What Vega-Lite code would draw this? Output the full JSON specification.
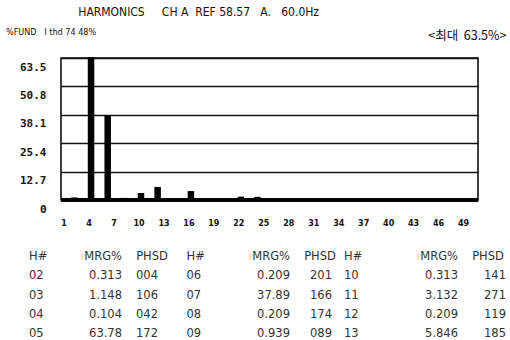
{
  "$schema": "https://vega.github.io/schema/vega-lite/v6.json",
  "background": "white",
  "padding": {"left": 5, "top": 6, "right": 0, "bottom": 0},
  "title": {"text": "HARMONICS\u00a0\u00a0\u00a0\u00a0\u00a0CH\u00a0A\u00a0\u00a0REF\u00a058.57\u00a0\u00a0\u00a0A.\u00a0\u00a0\u00a060.0Hz", "anchor": "start", "frame": "bounds", "dx": 73, "font": "DejaVu Sans Condensed", "fontSize": 12, "fontWeight": "normal", "color": "#111", "offset": 8},
  "datasets": {
    "harmonics": [
      {"h": 2, "mrg": 0.313}, {"h": 3, "mrg": 1.148}, {"h": 4, "mrg": 0.104}, {"h": 5, "mrg": 63.78},
      {"h": 6, "mrg": 0.209}, {"h": 7, "mrg": 37.89}, {"h": 8, "mrg": 0.209}, {"h": 9, "mrg": 0.939},
      {"h": 10, "mrg": 0.313}, {"h": 11, "mrg": 3.132}, {"h": 12, "mrg": 0.209}, {"h": 13, "mrg": 5.846},
      {"h": 14, "mrg": 0.2}, {"h": 15, "mrg": 0.5}, {"h": 16, "mrg": 0.2}, {"h": 17, "mrg": 4.0},
      {"h": 18, "mrg": 0.2}, {"h": 19, "mrg": 0.6}, {"h": 20, "mrg": 0.1}, {"h": 21, "mrg": 0.3},
      {"h": 22, "mrg": 0.1}, {"h": 23, "mrg": 1.5}, {"h": 24, "mrg": 0.1}, {"h": 25, "mrg": 1.4},
      {"h": 26, "mrg": 0.1}, {"h": 27, "mrg": 0.3}, {"h": 28, "mrg": 0.1}, {"h": 29, "mrg": 0.7},
      {"h": 30, "mrg": 0.1}, {"h": 31, "mrg": 0.6}, {"h": 32, "mrg": 0.1}, {"h": 33, "mrg": 0.3},
      {"h": 34, "mrg": 0.1}, {"h": 35, "mrg": 0.4}, {"h": 36, "mrg": 0.1}, {"h": 37, "mrg": 0.6},
      {"h": 38, "mrg": 0.1}, {"h": 39, "mrg": 0.3}, {"h": 40, "mrg": 0.1}, {"h": 41, "mrg": 0.4},
      {"h": 42, "mrg": 0.1}, {"h": 43, "mrg": 0.3}, {"h": 44, "mrg": 0.1}, {"h": 45, "mrg": 0.3},
      {"h": 46, "mrg": 0.1}, {"h": 47, "mrg": 0.3}, {"h": 48, "mrg": 0.1}, {"h": 49, "mrg": 0.3},
      {"h": 50, "mrg": 0.1}
    ],
    "table": [
      {"grp": 1, "row": 1, "h": "02", "mrg": "0.313", "phsd": "004"},
      {"grp": 1, "row": 2, "h": "03", "mrg": "1.148", "phsd": "106"},
      {"grp": 1, "row": 3, "h": "04", "mrg": "0.104", "phsd": "042"},
      {"grp": 1, "row": 4, "h": "05", "mrg": "63.78", "phsd": "172"},
      {"grp": 2, "row": 1, "h": "06", "mrg": "0.209", "phsd": "201"},
      {"grp": 2, "row": 2, "h": "07", "mrg": "37.89", "phsd": "166"},
      {"grp": 2, "row": 3, "h": "08", "mrg": "0.209", "phsd": "174"},
      {"grp": 2, "row": 4, "h": "09", "mrg": "0.939", "phsd": "089"},
      {"grp": 3, "row": 1, "h": "10", "mrg": "0.313", "phsd": "141"},
      {"grp": 3, "row": 2, "h": "11", "mrg": "3.132", "phsd": "271"},
      {"grp": 3, "row": 3, "h": "12", "mrg": "0.209", "phsd": "119"},
      {"grp": 3, "row": 4, "h": "13", "mrg": "5.846", "phsd": "185"}
    ],
    "groups": [{"grp": 1}, {"grp": 2}, {"grp": 3}]
  },
  "spacing": 23,
  "vconcat": [
    {
      "width": 417,
      "height": 142,
      "view": {"stroke": "black", "strokeWidth": 1.5},
      "title": {"text": "%FUND\u00a0\u00a0\u00a0I\u00a0thd\u00a074\u00a048%", "anchor": "start", "frame": "bounds", "dx": -13.5, "font": "DejaVu Sans Condensed", "fontSize": 9, "fontWeight": "normal", "color": "#111", "offset": -8},
      "data": {"name": "harmonics"},
      "layer": [
        {
          "mark": {"type": "bar", "color": "black", "width": 6.5},
          "encoding": {
            "x": {
              "field": "h", "type": "quantitative",
              "scale": {"domain": [1.39, 51.5], "nice": false, "zero": false, "padding": 0},
              "axis": {
                "values": [1.7, 4.7, 7.7, 10.7, 13.7, 16.7, 19.7, 22.7, 25.7, 28.7, 31.7, 34.7, 37.7, 40.7, 43.7, 46.7, 49.7],
                "labelExpr": "'' + round(datum.value - 0.7)",
                "tickCount": 40,
                "title": null, "grid": false, "ticks": false, "domain": false, "labelOverlap": false,
                "labelPadding": 19, "labelFont": "DejaVu Sans", "labelFontSize": 8, "labelFontWeight": "bold", "labelColor": "#111"
              }
            },
            "y": {
              "field": "mrg", "type": "quantitative",
              "scale": {"domain": [0, 63.5], "nice": false},
              "axis": {
                "values": [0, 12.7, 25.4, 38.1, 50.8, 63.5],
                "tickCount": 20,
                "labelExpr": "datum.value == 0 ? '0' : format(datum.value, '.1f')",
                "labelOverlap": false,
                "grid": true, "gridColor": "#111", "gridWidth": 1.5, "ticks": false, "domain": false,
                "labelPadding": 15, "labelOffset": 9, "labelFont": "DejaVu Sans Mono", "labelFontSize": 11, "labelFontWeight": "bold", "labelColor": "#111",
                "title": "<최대\u00a0\u00a063.5%>", "titleAngle": 0, "titleAlign": "right", "titleBaseline": "middle", "titleX": 445, "titleY": -23,
                "titleFont": "Noto Sans CJK KR", "titleFontSize": 12.5, "titleFontWeight": "normal", "titleColor": "#111"
              }
            }
          }
        },
        {
          "mark": {"type": "rule", "color": "black", "strokeWidth": 3},
          "encoding": {"y": {"datum": 0}}
        }
      ]
    },
    {
      "width": 417,
      "height": 77,
      "view": {"stroke": null},
      "data": {"name": "table"},
      "resolve": {"scale": {"x": "independent"}},
      "encoding": {
        "y": {"field": "row", "type": "ordinal", "axis": null, "scale": {"type": "point", "domain": [0, 1, 2, 3, 4], "padding": 0}}
      },
      "layer": [
        {"mark": {"type": "text", "align": "left", "font": "DejaVu Sans", "fontSize": 11.5, "color": "#333"},
         "encoding": {"x": {"field": "grp", "type": "ordinal", "axis": null, "scale": {"type": "point", "padding": 0, "range": [-32, 283]}}, "text": {"field": "h"}}},
        {"mark": {"type": "text", "align": "right", "font": "DejaVu Sans", "fontSize": 11.5, "color": "#333"},
         "encoding": {"x": {"field": "grp", "type": "ordinal", "axis": null, "scale": {"type": "point", "padding": 0, "range": [61, 397]}}, "text": {"field": "mrg"}}},
        {"mark": {"type": "text", "align": "right", "font": "DejaVu Sans", "fontSize": 11.5, "color": "#333"},
         "encoding": {"x": {"field": "grp", "type": "ordinal", "axis": null, "scale": {"type": "point", "padding": 0, "range": [97, 445]}}, "text": {"field": "phsd"}}},
        {"data": {"name": "groups"}, "mark": {"type": "text", "align": "left", "font": "DejaVu Sans", "fontSize": 11.5, "color": "#333", "text": "H#"},
         "encoding": {"x": {"field": "grp", "type": "ordinal", "axis": null, "scale": {"type": "point", "padding": 0, "range": [-32, 283]}}, "y": {"datum": 0, "type": "ordinal"}}},
        {"data": {"name": "groups"}, "mark": {"type": "text", "align": "right", "font": "DejaVu Sans", "fontSize": 11.5, "color": "#333", "text": "MRG%"},
         "encoding": {"x": {"field": "grp", "type": "ordinal", "axis": null, "scale": {"type": "point", "padding": 0, "range": [61, 397]}}, "y": {"datum": 0, "type": "ordinal"}}},
        {"data": {"name": "groups"}, "mark": {"type": "text", "align": "center", "font": "DejaVu Sans", "fontSize": 11.5, "color": "#333", "text": "PHSD"},
         "encoding": {"x": {"field": "grp", "type": "ordinal", "axis": null, "scale": {"type": "point", "padding": 0, "range": [91, 427]}}, "y": {"datum": 0, "type": "ordinal"}}}
      ]
    }
  ]
}
